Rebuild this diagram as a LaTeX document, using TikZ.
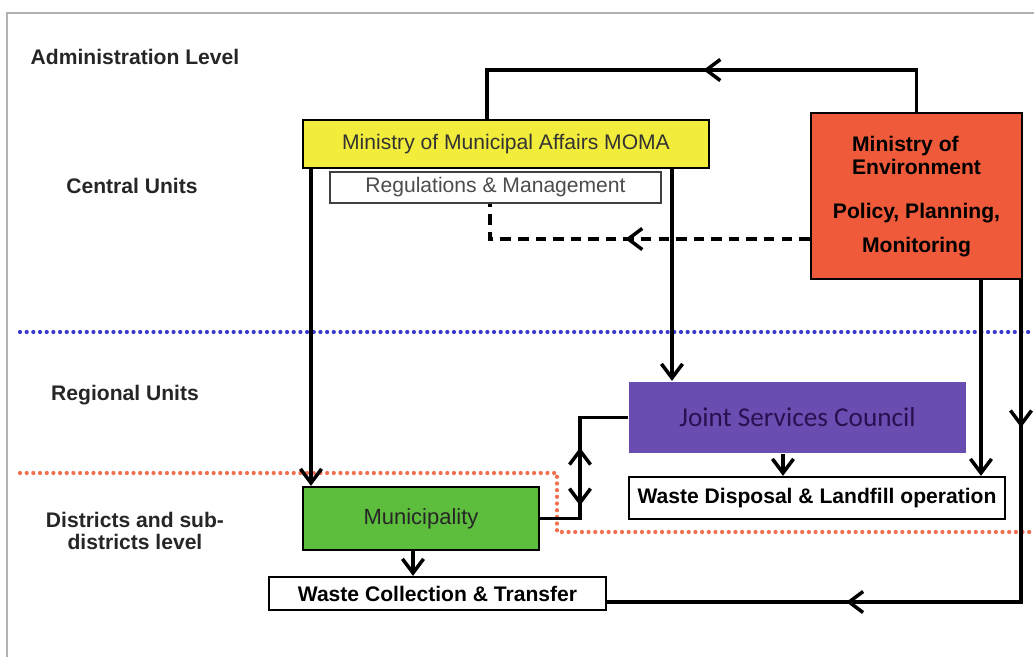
\documentclass[tikz,border=0pt]{standalone}
\usepackage{fontspec}
\setmainfont{Liberation Sans}
\newfontfamily\calibrifont{Carlito}
\usetikzlibrary{shapes, arrows.meta, calc, decorations.markings}
\definecolor{momayellow}{HTML}{F2EC3B}
\definecolor{moered}{HTML}{EF5A3A}
\definecolor{jscpurple}{HTML}{6A4DB0}
\definecolor{jsctext}{HTML}{2A1050}
\definecolor{munigreen}{HTML}{5DBE3E}
\definecolor{bluedot}{HTML}{3A3ACF}
\definecolor{reddot}{HTML}{F2704F}
\tikzstyle{block} = [draw, rectangle, line width=1.3pt, align=center, inner sep=0pt, font=\fontsize{12}{13}\selectfont]
\tikzstyle{level} = [align=center, font=\fontsize{12}{13}\selectfont\bfseries, text=black!85]
\tikzstyle{wire} = [-{Straight Barb[length=8pt,width=12pt]}, line width=2pt]
\tikzstyle{line} = [line width=2pt]
\tikzstyle{frame} = [draw=black!30, line width=0.8pt]
\tikzstyle{bluedots} = [draw=bluedot, line width=2.4pt, dash pattern=on 0pt off 3.8pt, line cap=round]
\tikzstyle{reddots} = [draw=reddot, line width=2.4pt, dash pattern=on 0pt off 3.8pt, line cap=round]
\tikzset{
  mid/.style={postaction={decorate, decoration={markings, mark=at position #1 with {\arrow{Straight Barb[length=8pt,width=12pt]}}}}},
  midrev/.style={postaction={decorate, decoration={markings, mark=at position #1 with {\arrowreversed{Straight Barb[length=8pt,width=12pt]}}}}}
}

\begin{document}
\begin{tikzpicture}[x=0.02cm, y=-0.02cm]
  \useasboundingbox (0,0) rectangle (1034,657);
  \draw[frame] (1034,13) -- (7,13) -- (7,657);

  \node[level] (admin) at (135,57) {Administration Level};
  \node[level] (central) at (132,186) {Central Units};
  \node[level] (regional) at (125,395) {Regional Units};
  \node[level] (district) at (135,531) {Districts and sub-\\districts level};

  \draw[bluedots] (20,332) -- (1034,332);
  \draw[reddots] (20,473) -- (557,473) -- (557,532) -- (1034,532);

  \node[block, fill=momayellow, minimum width=8.12cm, minimum height=0.96cm, text=black!80] (moma) at (506,144) {Ministry of Municipal Affairs MOMA};
  \node[block, draw=black!75, minimum width=6.62cm, minimum height=0.62cm, text=black!70] (regs) at (495.5,187.5) {Regulations \& Management};
  \node[block, fill=moered, line width=1.6pt, minimum width=4.22cm, minimum height=3.32cm, font=\fontsize{12}{13}\selectfont\bfseries] (moe) at (916.5,196)
    {\begin{tabular}{@{}l@{}}Ministry of\\Environment\end{tabular}\\[12pt] Policy, Planning,\\[6pt] Monitoring};
  \node[block, draw=none, fill=jscpurple, minimum width=6.74cm, minimum height=1.42cm, font=\calibrifont\fontsize{15.5}{17}\selectfont, text=jsctext] (jsc) at (797.5,417.5) {Joint Services Council};
  \node[block, minimum width=7.52cm, minimum height=0.84cm, font=\fontsize{12}{13}\selectfont\bfseries] (wdl) at (817,498) {Waste Disposal \& Landfill operation};
  \node[block, fill=munigreen, minimum width=4.72cm, minimum height=1.26cm, font=\fontsize{12.5}{14}\selectfont, text=black!85] (muni) at (421,518.5) {Municipality};
  \node[block, minimum width=6.74cm, minimum height=0.66cm, font=\fontsize{12}{13}\selectfont\bfseries] (wct) at (437.5,593.5) {Waste Collection \& Transfer};

  \coordinate (loop) at (487,70);
  \coordinate (dash) at (490,239);
  \coordinate (mm) at (311,0);
  \coordinate (mj) at (672,0);
  \coordinate (jm) at (580,0);
  \coordinate (jw) at (783,0);
  \coordinate (mw) at (981,0);
  \coordinate (mc) at (1021,602);
  \coordinate (mu) at (413,0);

  \draw[line, mid=0.49] (moe.north) |- (loop) -- (loop |- moma.north);
  \draw[line, dash pattern=on 6pt off 4pt, mid=0.52] (moe.west |- dash) -- (dash) -- (dash |- regs.south);
  \draw[wire] (mm |- moma.south) -- (mm |- muni.north);
  \draw[wire] (mj |- moma.south) -- (mj |- jsc.north);
  \draw[line, midrev=1.56cm, mid=2.72cm] (jsc.west) -| (jm |- muni.east) -- (muni.east);
  \draw[wire] (jw |- jsc.south) -- (jw |- wdl.north);
  \draw[wire] (mw |- moe.south) -- (mw |- wdl.north);
  \draw[line, mid=0.2, mid=0.675] (mc |- moe.south) -- (mc) -- (wct.east |- mc);
  \draw[wire] (mu |- muni.south) -- (mu |- wct.north);
\end{tikzpicture}
\end{document}
